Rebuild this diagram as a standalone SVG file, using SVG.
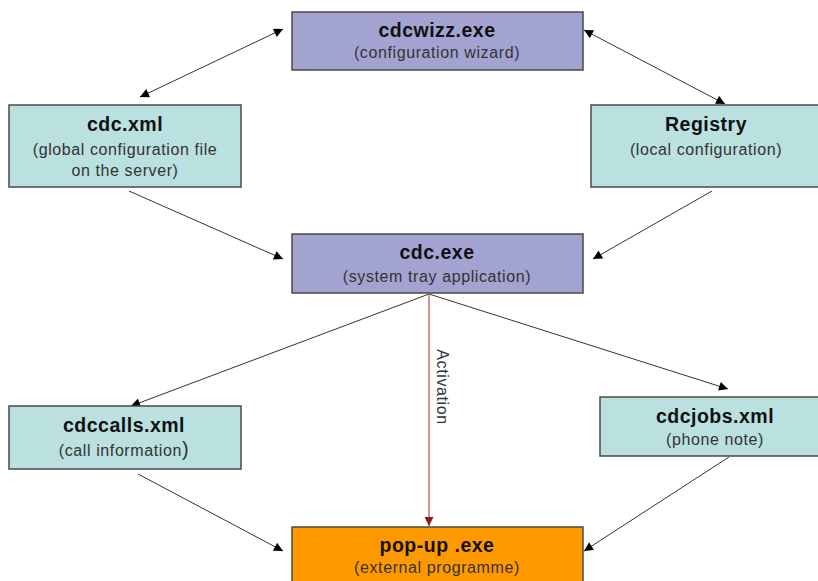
<svg xmlns="http://www.w3.org/2000/svg" width="818" height="581" viewBox="0 0 818 581">
<style>
.box{stroke:#4a4a4a;stroke-width:1.5}
.purple{fill:#a3a3d1}
.teal{fill:#bae0e0}
.orange{fill:#ff9900}
.t{font-family:"Liberation Sans",Arial,sans-serif;font-size:19.5px;font-weight:bold;fill:#111;text-anchor:middle;letter-spacing:0.5px}
.s{font-family:"Liberation Sans",Arial,sans-serif;font-size:16px;fill:#333;text-anchor:middle;letter-spacing:0.6px}
.c{stroke:#333;stroke-width:1;fill:none}
.act{stroke:#c05a5a;stroke-width:1.3;fill:none}
</style>
<defs>
<marker id="ah" viewBox="0 0 10 10" refX="10" refY="5" markerWidth="10" markerHeight="9" markerUnits="userSpaceOnUse" orient="auto-start-reverse">
<path d="M0,0 L10,5 L0,10 Z" fill="#000"/>
</marker>
<marker id="ahr" viewBox="0 0 10 10" refX="10" refY="5" markerWidth="10" markerHeight="9" markerUnits="userSpaceOnUse" orient="auto">
<path d="M0,0 L10,5 L0,10 Z" fill="#8b1a1a"/>
</marker>
</defs>
<rect width="818" height="581" fill="#fff"/>
<g id="connectors">
<line class="c" x1="140" y1="97" x2="283" y2="29" marker-start="url(#ah)" marker-end="url(#ah)"/>
<line class="c" x1="584" y1="30" x2="725" y2="104" marker-start="url(#ah)" marker-end="url(#ah)"/>
<line class="c" x1="129" y1="191" x2="283" y2="259" marker-end="url(#ah)"/>
<line class="c" x1="712" y1="191" x2="593" y2="259" marker-end="url(#ah)"/>
<line class="c" x1="429" y1="294" x2="131" y2="406" marker-end="url(#ah)"/>
<line class="c" x1="429" y1="294" x2="728" y2="389" marker-end="url(#ah)"/>
<line class="act" x1="429" y1="294" x2="429" y2="526" marker-end="url(#ahr)"/>
<text class="s" transform="translate(437,387) rotate(90)">Activation</text>
<line class="c" x1="138" y1="474" x2="283" y2="551" marker-end="url(#ah)"/>
<line class="c" x1="729" y1="457" x2="584" y2="551" marker-end="url(#ah)"/>
</g>
<g id="cdcwizz">
<rect class="box purple" x="292" y="12" width="291" height="58"/>
<text class="t" x="437" y="37">cdcwizz.exe</text>
<text class="s" x="437" y="58">(configuration wizard)</text>
</g>
<g id="cdcxml">
<rect class="box teal" x="9" y="105" width="232" height="82"/>
<text class="t" x="125" y="131">cdc.xml</text>
<text class="s" x="125" y="155">(global configuration file</text>
<text class="s" x="125" y="176">on the server)</text>
</g>
<g id="registry">
<rect class="box teal" x="591" y="105" width="240" height="82"/>
<text class="t" x="706" y="131">Registry</text>
<text class="s" x="706" y="155">(local configuration)</text>
</g>
<g id="cdcexe">
<rect class="box purple" x="292" y="234" width="291" height="59"/>
<text class="t" x="437" y="259">cdc.exe</text>
<text class="s" x="437" y="282">(system tray application)</text>
</g>
<g id="cdccalls">
<rect class="box teal" x="9" y="406" width="232" height="63"/>
<text class="t" x="124" y="432">cdccalls.xml</text>
<text class="s" x="124" y="456">(call information<tspan style="font-size:20px">)</tspan></text>
</g>
<g id="cdcjobs">
<rect class="box teal" x="600" y="397" width="230" height="59"/>
<text class="t" x="715" y="423">cdcjobs.xml</text>
<text class="s" x="715" y="445">(phone note)</text>
</g>
<g id="popup">
<rect class="box orange" x="292" y="527" width="291" height="60"/>
<text class="t" x="437" y="552">pop-up .exe</text>
<text class="s" x="437" y="573">(external programme)</text>
</g>
</svg>
